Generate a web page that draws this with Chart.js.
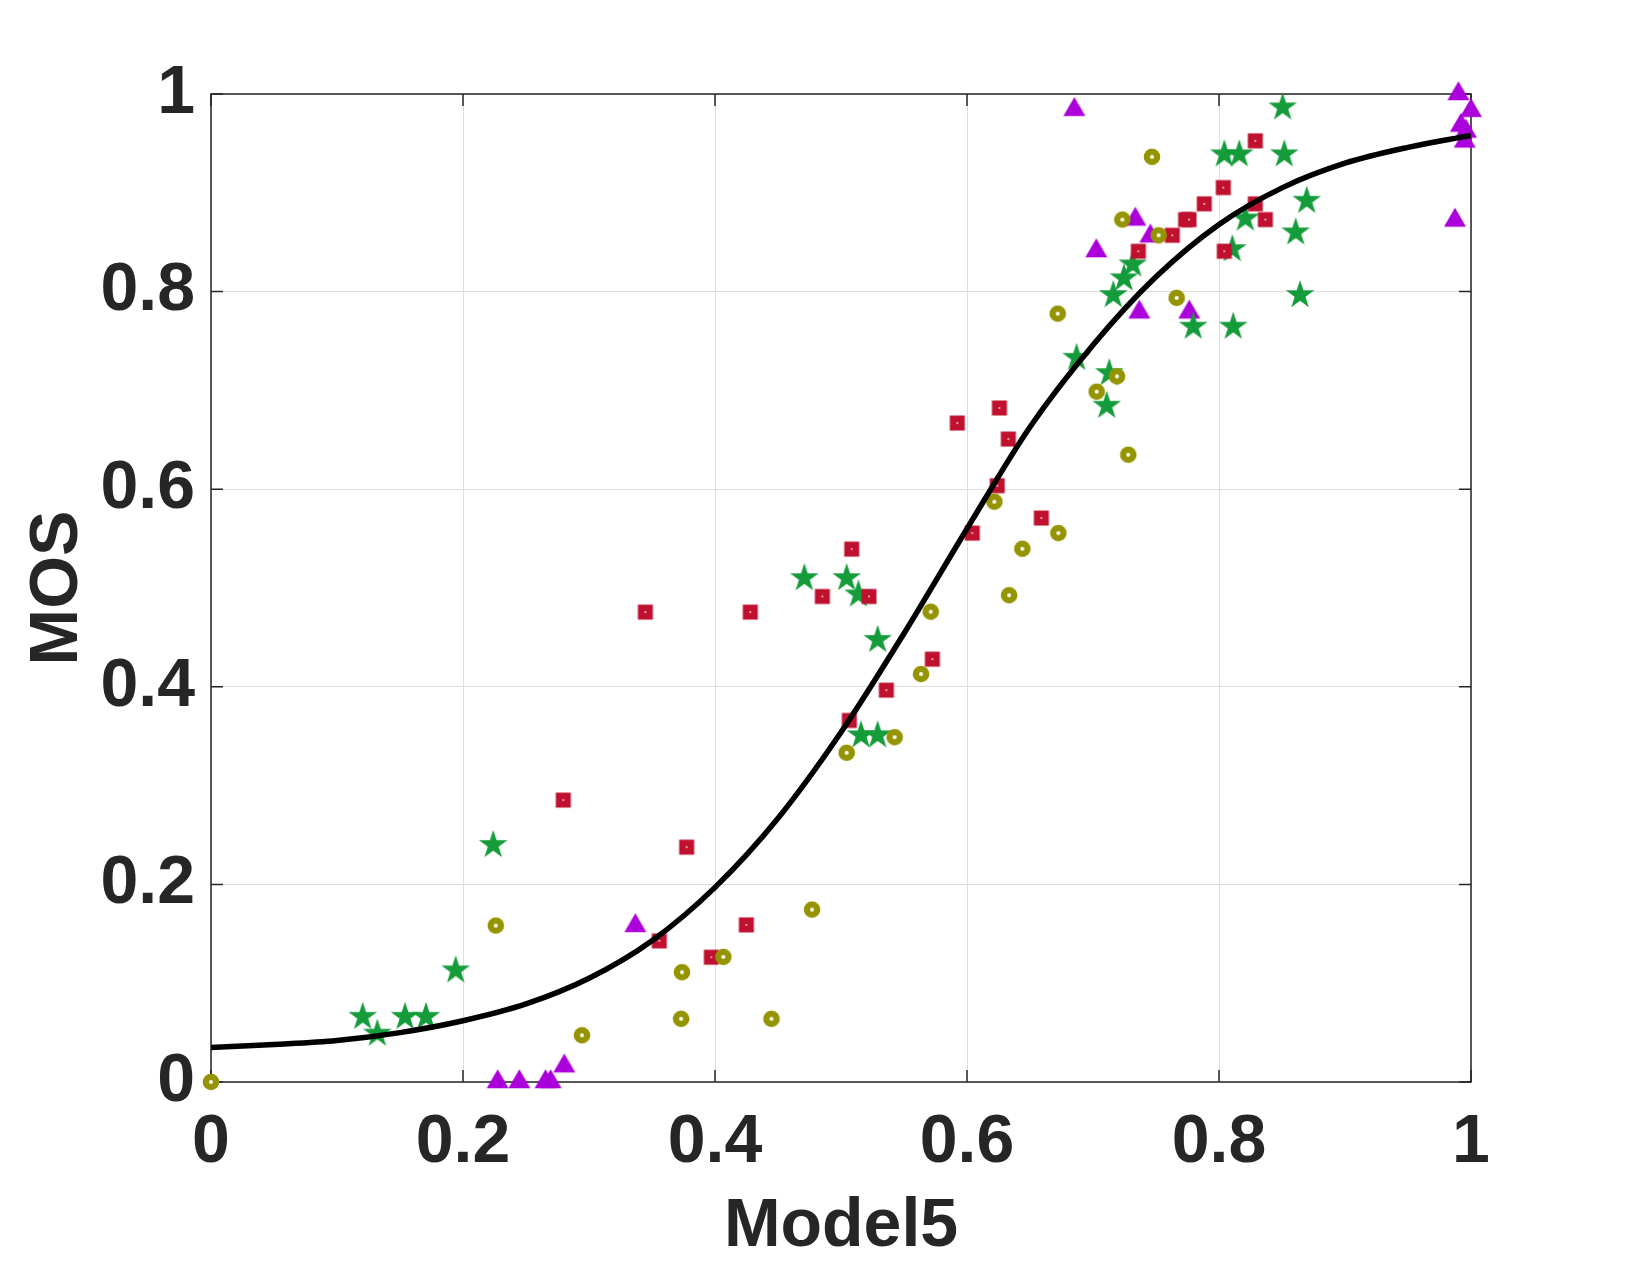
<!DOCTYPE html>
<html lang="en">
<head>
  <meta charset="UTF-8">
  <title>MOS vs Model5</title>
  <script src="https://cdn.jsdelivr.net/npm/chart.js"></script>
  <style>
    body { margin: 0; background: #fff; }
    #wrap { width: 1625px; height: 1266px; }
  </style>
</head>
<body>
  <div id="wrap"><canvas id="chart" width="1625" height="1266"></canvas></div>

  <script>
    // tick values
    const xTicks = [0, 0.2, 0.4, 0.6, 0.8, 1];
    const yTicks = [0, 0.2, 0.4, 0.6, 0.8, 1];

    // red squares
    const squareX = [0.2796, 0.3447, 0.3775, 0.3558, 0.3971, 0.4249, 0.428, 0.4852, 0.5085, 0.5222,
                     0.5066, 0.536, 0.5725, 0.5923, 0.6042, 0.624, 0.6257, 0.6328, 0.659, 0.736,
                     0.7629, 0.7735, 0.7762, 0.7883, 0.8034, 0.8042, 0.8288, 0.8368, 0.8288];
    const squareY = [0.2853, 0.4756, 0.2377, 0.1428, 0.1263, 0.159, 0.4756, 0.4914, 0.5394, 0.4914,
                     0.3659, 0.3966, 0.428, 0.667, 0.5556, 0.6035, 0.6822, 0.6508, 0.5708, 0.8408,
                     0.857, 0.8729, 0.8729, 0.8888, 0.9053, 0.8408, 0.8888, 0.8729, 0.9526];

    // green stars
    const starX = [0.1204, 0.132, 0.154, 0.1706, 0.1942, 0.224, 0.4709, 0.5045, 0.5138, 0.5291,
                   0.5159, 0.5291, 0.687, 0.7129, 0.7109, 0.7161, 0.7246, 0.7315, 0.7796, 0.8113,
                   0.8106, 0.8209, 0.8042, 0.8161, 0.8518, 0.8505, 0.8696, 0.8609, 0.8643];
    const starY = [0.066, 0.049, 0.066, 0.066, 0.113, 0.24, 0.51, 0.51, 0.4935, 0.4475,
                   0.351, 0.351, 0.733, 0.7175, 0.6845, 0.7965, 0.8135, 0.8275, 0.7645, 0.7645,
                   0.843, 0.874, 0.939, 0.939, 0.939, 0.9865, 0.892, 0.86, 0.7965];

    // olive rings
    const ringX = [0, 0.226, 0.2944, 0.3731, 0.4448, 0.3738, 0.4066, 0.477, 0.5045, 0.5426,
                   0.5635, 0.5712, 0.6217, 0.6439, 0.6334, 0.6725, 0.672, 0.7029, 0.719, 0.728,
                   0.7233, 0.7521, 0.7468, 0.7664];
    const ringY = [0, 0.1583, 0.0473, 0.0639, 0.0639, 0.1111, 0.1266, 0.1745, 0.3332, 0.349,
                   0.4129, 0.476, 0.5873, 0.5397, 0.4927, 0.5556, 0.7777, 0.6987, 0.7142, 0.6349,
                   0.8729, 0.857, 0.9364, 0.7936];

    // purple triangles
    const triX = [0.2275, 0.2447, 0.2655, 0.2695, 0.2804, 0.3368, 0.6852, 0.7026, 0.7336, 0.7455,
                  0.7368, 0.7764, 0.99, 1.0, 0.992, 0.996, 0.995, 0.9873];
    const triY = [0, 0, 0, 0, 0.016, 0.158, 0.984, 0.841, 0.873, 0.856,
                  0.779, 0.779, 1.0, 0.983, 0.968, 0.962, 0.952, 0.872];

    // fitted curve
    const fitX = [0, 0.05, 0.1, 0.15, 0.2, 0.25, 0.3, 0.35, 0.4, 0.45, 0.5,
                  0.55, 0.6, 0.65, 0.7, 0.75, 0.8, 0.85, 0.9, 0.95, 1];
    const fitY = [0.035, 0.038, 0.042, 0.050, 0.062, 0.079, 0.105, 0.143, 0.197, 0.267, 0.354,
                  0.454, 0.560, 0.663, 0.746, 0.815, 0.868, 0.905, 0.930, 0.946, 0.958];

    const pts = (xs, ys) => xs.map((x, i) => ({ x: x, y: ys[i] }));

    // marker images
    function makeMarker(size, draw) {
      const c = document.createElement('canvas');
      c.width = size; c.height = size;
      draw(c.getContext('2d'), size / 2);
      return c;
    }

    const squareImg = makeMarker(18, (g, m) => {
      g.fillStyle = '#C0102F';
      g.fillRect(m - 7.5, m - 7.5, 15, 15);
      g.fillStyle = '#fff';
      g.fillRect(m - 0.75, m - 0.75, 1.5, 1.5);
    });

    const starImg = makeMarker(34, (g, m) => {
      const R = 15, r = R * 0.382;
      g.fillStyle = '#149B3A';
      g.beginPath();
      for (let i = 0; i < 10; i++) {
        const a = -Math.PI / 2 + i * Math.PI / 5;
        const rr = i % 2 ? r : R;
        g.lineTo(m + rr * Math.cos(a), m + rr * Math.sin(a));
      }
      g.closePath();
      g.fill();
    });

    const ringImg = makeMarker(20, (g, m) => {
      g.fillStyle = '#949400';
      g.beginPath(); g.arc(m, m, 8.3, 0, Math.PI * 2); g.fill();
      g.fillStyle = '#fff';
      g.beginPath(); g.arc(m, m, 2, 0, Math.PI * 2); g.fill();
    });

    const triImg = makeMarker(30, (g, m) => {
      const r = 12.7;
      g.fillStyle = '#AB00DB';
      g.beginPath();
      g.moveTo(m, m - r);
      g.lineTo(m + r * Math.sin(2 * Math.PI / 3), m + r / 2);
      g.lineTo(m - r * Math.sin(2 * Math.PI / 3), m + r / 2);
      g.closePath();
      g.fill();
    });

    // axes box with inward ticks (MATLAB style)
    const boxPlugin = {
      id: 'box',
      beforeDatasetsDraw(chart) {
        const { ctx, chartArea: a, scales } = chart;
        const len = 12;
        ctx.save();
        ctx.strokeStyle = '#262626';
        ctx.lineWidth = 1.5;
        ctx.strokeRect(a.left, a.top, a.right - a.left, a.bottom - a.top);
        ctx.beginPath();
        xTicks.forEach(v => {
          const px = scales.x.getPixelForValue(v);
          ctx.moveTo(px, a.bottom); ctx.lineTo(px, a.bottom - len);
          ctx.moveTo(px, a.top); ctx.lineTo(px, a.top + len);
        });
        yTicks.forEach(v => {
          const py = scales.y.getPixelForValue(v);
          ctx.moveTo(a.left, py); ctx.lineTo(a.left + len, py);
          ctx.moveTo(a.right, py); ctx.lineTo(a.right - len, py);
        });
        ctx.stroke();
        ctx.restore();
      }
    };

    const tickFont = { family: '"Liberation Sans", Arial, sans-serif', size: 68, weight: 'bold', lineHeight: 1 };
    const fmt = v => String(Math.round(v * 10) / 10);

    new Chart(document.getElementById('chart'), {
      type: 'scatter',
      data: {
        datasets: [
          {
            type: 'line',
            label: 'fit',
            data: pts(fitX, fitY),
            borderColor: '#000',
            borderWidth: 5.5,
            pointRadius: 0,
            cubicInterpolationMode: 'monotone',
            fill: false,
            order: 0
          },
          { label: 'rings', data: pts(ringX, ringY), pointStyle: ringImg, clip: false, order: 1 },
          { label: 'squares', data: pts(squareX, squareY), pointStyle: squareImg, clip: false, order: 2 },
          { label: 'stars', data: pts(starX, starY), pointStyle: starImg, clip: false, order: 3 },
          { label: 'triangles', data: pts(triX, triY), pointStyle: triImg, clip: false, order: 4 }
        ]
      },
      options: {
        responsive: false,
        animation: false,
        layout: { padding: { top: 94, right: 154, left: 0, bottom: 0 } },
        plugins: {
          legend: { display: false },
          tooltip: { enabled: false }
        },
        scales: {
          x: {
            type: 'linear',
            min: 0, max: 1,
            afterBuildTicks: s => { s.ticks = xTicks.map(v => ({ value: v })); },
            afterFit: s => { s.height = 184; },
            grid: { color: '#dedede', lineWidth: 1, drawTicks: false },
            border: { display: false },
            ticks: {
              autoSkip: false, maxRotation: 0, padding: 27,
              color: '#262626', font: tickFont, callback: fmt
            },
            title: {
              display: true, text: 'Model5', color: '#262626',
              font: tickFont, padding: { top: 0, bottom: 5 }
            }
          },
          y: {
            type: 'linear',
            min: 0, max: 1,
            afterBuildTicks: s => { s.ticks = yTicks.map(v => ({ value: v })); },
            afterFit: s => { s.width = 211; },
            grid: { color: '#dedede', lineWidth: 1, drawTicks: false },
            border: { display: false },
            ticks: {
              autoSkip: false, padding: 16,
              color: '#262626', font: tickFont, callback: fmt
            },
            title: {
              display: true, text: 'MOS', color: '#262626',
              font: tickFont, padding: { top: 24, bottom: 0 }
            }
          }
        }
      },
      plugins: [boxPlugin]
    });
  </script>
</body>
</html>
